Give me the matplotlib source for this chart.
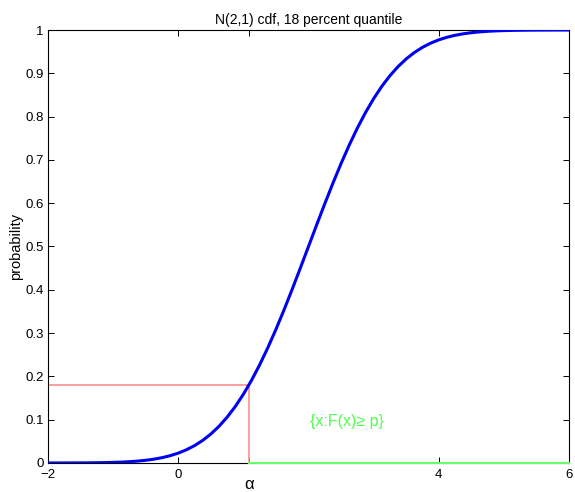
import numpy as np
import matplotlib.pyplot as plt
import matplotlib.transforms as mtransforms

plt.rcParams['font.family'] = ['Liberation Sans', 'DejaVu Sans']

# N(2,1) cdf, x from -2 to 6 in steps of 0.125
x_vals = np.linspace(-2, 6, 65)
cdf_vals = [0.00003, 0.00005, 0.00009, 0.00014, 0.00023, 0.00037, 0.00058, 0.00089,
            0.00135, 0.00202, 0.00298, 0.00433, 0.00621, 0.00877, 0.01222, 0.01679,
            0.02275, 0.03040, 0.04006, 0.05208, 0.06681, 0.08457, 0.10565, 0.13029,
            0.15866, 0.19079, 0.22663, 0.26599, 0.30854, 0.35383, 0.40129, 0.45026,
            0.5,
            0.54974, 0.59871, 0.64617, 0.69146, 0.73401, 0.77337, 0.80921, 0.84134,
            0.86971, 0.89435, 0.91543, 0.93319, 0.94792, 0.95994, 0.96960, 0.97725,
            0.98321, 0.98778, 0.99123, 0.99379, 0.99567, 0.99702, 0.99798, 0.99865,
            0.99911, 0.99942, 0.99963, 0.99977, 0.99986, 0.99991, 0.99995, 0.99997]
p_level = 0.18
alpha_q = 1.085
x_ticks = [-2, 0, 4, 6]
x_labels = ['\u22122', '0', '4', '6']
y_ticks = [0, 0.1, 0.2, 0.3, 0.4, 0.5, 0.6, 0.7, 0.8, 0.9, 1]
y_labels = ['0', '0.1', '0.2', '0.3', '0.4', '0.5', '0.6', '0.7', '0.8', '0.9', '1']

fig = plt.figure(figsize=(5.75, 4.92), dpi=100)
ax = fig.add_axes([0.0835, 0.059, 0.906, 0.88])

ax.plot([alpha_q, 6], [0, 0], color=(0.4, 1.0, 0.4), lw=1.5, zorder=4, clip_on=False)
ax.plot(x_vals, cdf_vals, color=(0.0, 0.0, 0.95), lw=2.2, zorder=3)
ax.plot([-2, alpha_q, alpha_q], [p_level, p_level, 0], color=(1.0, 0.55, 0.55), lw=1.2, zorder=2)

ax.text(2.02, 0.095, '{x:F(x)\u2265 p}', color=(0.3, 1.0, 0.3), fontsize=11.5,
        va='center', ha='left')

ax.set_xlim(-2, 6)
ax.set_ylim(0, 1)
ax.set_xticks(x_ticks + [alpha_q])
ax.set_xticklabels(x_labels + [''], fontsize=9.5)
ax.set_yticks(y_ticks)
ax.set_yticklabels(y_labels, fontsize=9.5)
ax.tick_params(direction='in', top=True, right=True, length=4, width=0.7, pad=3)
ax.tick_params(axis='x', pad=4)
trans = mtransforms.blended_transform_factory(ax.transData, ax.transAxes)
ax.text(alpha_q, -0.05, '\u03b1', transform=trans, fontsize=12, ha='center', va='center')

for s in ax.spines.values():
    s.set_linewidth(0.8)

ax.set_title('N(2,1) cdf, 18 percent quantile', fontsize=10, pad=4)
ax.set_ylabel('probability', fontsize=10.5, labelpad=2)

fig.savefig('out.png', dpi=100)
